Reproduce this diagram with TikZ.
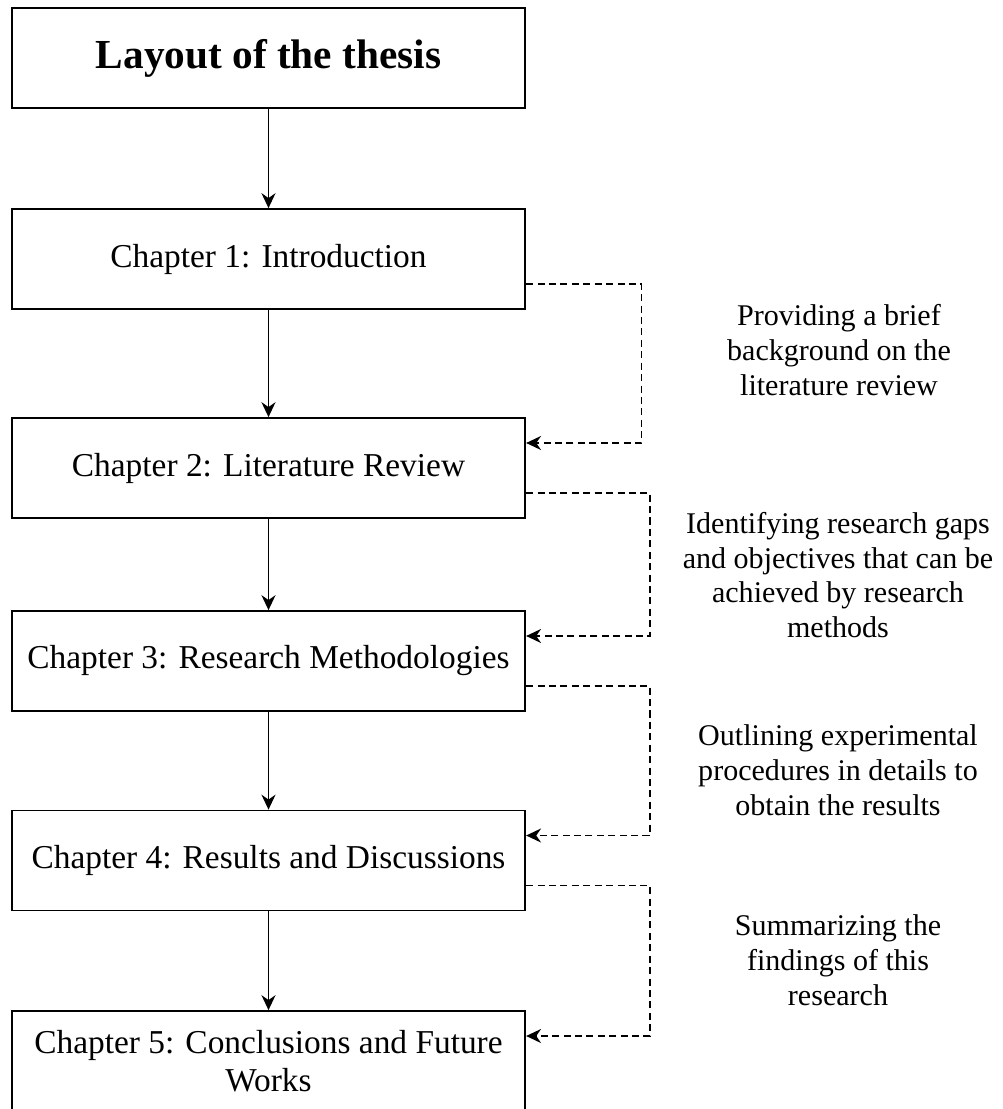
\documentclass[tikz,border=0pt]{standalone}
\usepackage{fontspec}
\setmainfont{Liberation Serif}
\usetikzlibrary{arrows.meta}

\begin{document}
\begin{tikzpicture}[
 chapter/.style={draw,line width=1pt,minimum width=10.27cm,minimum height=2cm,inner sep=0pt,align=center,font=\fontsize{19}{21.6}\selectfont},
 note/.style={align=center,font=\fontsize{17.1}{19.8}\selectfont},
 flow/.style={-{Stealth[length=8.5pt,width=8pt]},line width=0.9pt},
 feedback/.style={-{Stealth[length=8.5pt,width=8pt]},line width=0.9pt,dash pattern=on 4pt off 2.5pt}
]
 \useasboundingbox (0,0) rectangle (20.04,-22.18);

 % main column
 \node[chapter,font=\fontsize{23.5}{26}\selectfont\bfseries] (title) at (5.37,-1.16) {Layout of the thesis};
 \node[chapter] (ch1) at (5.37,-5.18) {Chapter 1: Introduction};
 \node[chapter] (ch2) at (5.37,-9.36) {Chapter 2: Literature Review};
 \node[chapter] (ch3) at (5.37,-13.22) {Chapter 3: Research Methodologies};
 \node[chapter] (ch4) at (5.37,-17.21) {Chapter 4: Results and Discussions};
 \node[chapter] (ch5) at (5.37,-21.22) {Chapter 5: Conclusions and Future\\Works};

 \draw[flow] (title) -- (ch1);
 \draw[flow] (ch1) -- (ch2);
 \draw[flow] (ch2) -- (ch3);
 \draw[flow] (ch3) -- (ch4);
 \draw[flow] (ch4) -- (ch5);

 % side notes
 \node[note] (n1) at (16.78,-7.0) {Providing a brief\\background on the\\literature review};
 \node[note] (n2) at (16.76,-11.5) {Identifying research gaps\\and objectives that can be\\achieved by research\\methods};
 \node[note] (n3) at (16.76,-15.4) {Outlining experimental\\procedures in details to\\obtain the results};
 \node[note] (n4) at (16.76,-19.2) {Summarizing the\\findings of this\\research};

 \draw[feedback] ([yshift=-5mm]ch1.east) -- ++(2.31,0) |- ([yshift=5mm]ch2.east);
 \draw[feedback] ([yshift=-5mm]ch2.east) -- ++(2.48,0) |- ([yshift=5mm]ch3.east);
 \draw[feedback] ([yshift=-5mm]ch3.east) -- ++(2.48,0) |- ([yshift=5mm]ch4.east);
 \draw[feedback] ([yshift=-5mm]ch4.east) -- ++(2.48,0) |- ([yshift=5mm]ch5.east);

\end{tikzpicture}
\end{document}
